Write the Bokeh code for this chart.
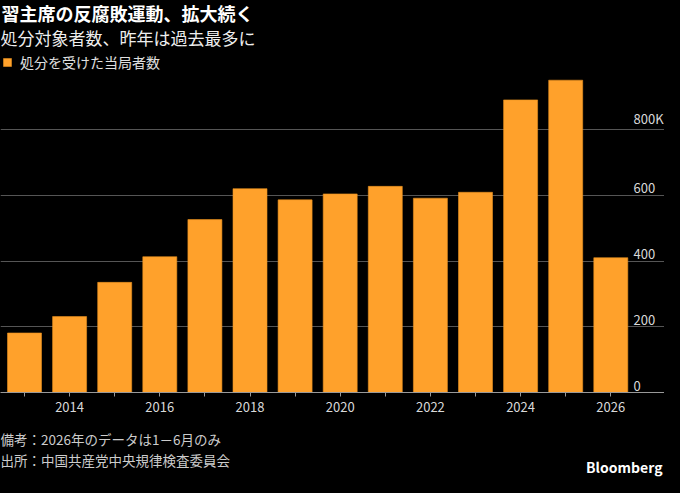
from bokeh.plotting import figure
from bokeh.layouts import column
from bokeh.models import (Label, Legend, LegendItem, FixedTicker, ColumnDataSource,
                          GlobalInlineStyleSheet)
from bokeh.core.properties import value
from bokeh.embed import file_html
from bokeh.resources import INLINE

# ---- data ----
years = [2013, 2014, 2015, 2016, 2017, 2018, 2019, 2020, 2021, 2022, 2023, 2024, 2025, 2026]
officials_k = [181, 231, 335, 413, 526, 620, 586, 604, 627, 591, 609, 890, 950, 410]
y_tick_values = [0, 200, 400, 600, 800]
y_tick_labels = ["0", "200", "400", "600", "800K"]
x_label_years = [2014, 2016, 2018, 2020, 2022, 2024, 2026]

title_text = "習主席の反腐敗運動、拡大続く"
subtitle_text = "処分対象者数、昨年は過去最多に"
legend_text = "処分を受けた当局者数"
note_text = "備考：2026年のデータは1－6月のみ"
source_text = "出所：中国共産党中央規律検査委員会"
brand_text = "Bloomberg"

FONT = "Noto Sans CJK JP"
ORANGE = "#FFA12B"
BG = "#000000"
W = 664
MAIN_H = 420
FOOT_H = 57

# ranges: frame spans the whole width; top of frame is the top of the figure
PX_PER_YEAR = 45.1
X0 = 2013 - 24 / PX_PER_YEAR
X1 = X0 + W / PX_PER_YEAR
FRAME_H = 392
PX_PER_UNIT = (392 - 129) / 800
Y1 = FRAME_H / PX_PER_UNIT

p = figure(width=W, height=MAIN_H, output_backend="svg", toolbar_location=None,
           x_range=(X0, X1), y_range=(0, Y1),
           background_fill_color=BG, border_fill_color=BG, outline_line_color=None,
           min_border_left=0, min_border_right=0, min_border_top=0, min_border_bottom=28)

src = ColumnDataSource(dict(x=years, top=officials_k))
bars = p.vbar(x="x", top="top", width=34 / PX_PER_YEAR, source=src, fill_color=ORANGE,
              line_color="#E8901F", line_width=0.6)

# grid
p.xgrid.visible = False
p.ygrid.ticker = FixedTicker(ticks=y_tick_values)
p.ygrid.grid_line_color = "#555555"
p.ygrid.grid_line_width = 1
p.ygrid.bounds = (X0, X1 - 7 / PX_PER_YEAR)

# y axis hidden, labels drawn inside plot area at right, above the grid lines
p.yaxis.visible = False
lab_src = ColumnDataSource(dict(x=[X1] * len(y_tick_values), y=y_tick_values, t=y_tick_labels))
p.text(x="x", y="y", text="t", source=lab_src, text_align="left", text_baseline="bottom",
       x_offset=-31, y_offset=-2, text_color="#d9d9d9", text_font_size="13px",
       text_font=value(FONT))

# x axis
ax = p.xaxis[0]
ax.ticker = FixedTicker(ticks=years)
ax.major_label_overrides = {y: (str(y) if y in x_label_years else "") for y in years}
ax.axis_line_color = "#999999"
ax.major_tick_line_color = "#999999"
ax.major_tick_in = 0
ax.major_tick_out = 4
ax.minor_tick_line_color = None
ax.major_label_text_color = "#d9d9d9"
ax.major_label_text_font = FONT
ax.major_label_text_font_size = "13px"
ax.major_label_standoff = 5

# legend inside the frame, below the header
legend = Legend(items=[LegendItem(label=legend_text, renderers=[bars])],
                location=(0, FRAME_H - 74), orientation="horizontal",
                background_fill_alpha=0, border_line_alpha=0,
                label_text_color="#e0e0e0", label_text_font=FONT, label_text_font_size="14px",
                glyph_width=10, glyph_height=10, label_standoff=8, padding=2, margin=0)
p.add_layout(legend, "center")

# header texts (inside the frame, above the bars)
p.add_layout(Label(x=X0, y=Y1, x_offset=1, y_offset=-12, text=title_text,
                   text_align="left", text_baseline="middle", text_font=FONT,
                   text_font_size="18px", text_font_style="bold", text_color="#ffffff"))
p.add_layout(Label(x=X0, y=Y1, x_offset=0, y_offset=-37, text=subtitle_text,
                   text_align="left", text_baseline="middle", text_font=FONT,
                   text_font_size="17px", text_color="#eeeeee"))

# footer figure
f = figure(width=W, height=FOOT_H, output_backend="svg", toolbar_location=None,
           x_range=(0, W), y_range=(0, FOOT_H),
           background_fill_color=BG, border_fill_color=BG, outline_line_color=None,
           min_border=0)
f.xaxis.visible = False
f.yaxis.visible = False
f.grid.visible = False
f.add_layout(Label(x=0, y=FOOT_H - 18, text=note_text, text_align="left",
                   text_baseline="middle", text_font=FONT, text_font_size="13.5px",
                   text_color="#cccccc"))
f.add_layout(Label(x=0, y=FOOT_H - 39, text=source_text, text_align="left",
                   text_baseline="middle", text_font=FONT, text_font_size="13.5px",
                   text_color="#cccccc"))
f.add_layout(Label(x=W - 2, y=FOOT_H - 46, text=brand_text, text_align="right",
                   text_baseline="middle", text_font=FONT, text_font_size="14px",
                   text_font_style="bold", text_color="#ffffff"))

layout = column(p, f, spacing=0)
layout.stylesheets = [GlobalInlineStyleSheet(css="html, body { background: #000000; }")]

open("out.html", "w").write(file_html(layout, INLINE))
